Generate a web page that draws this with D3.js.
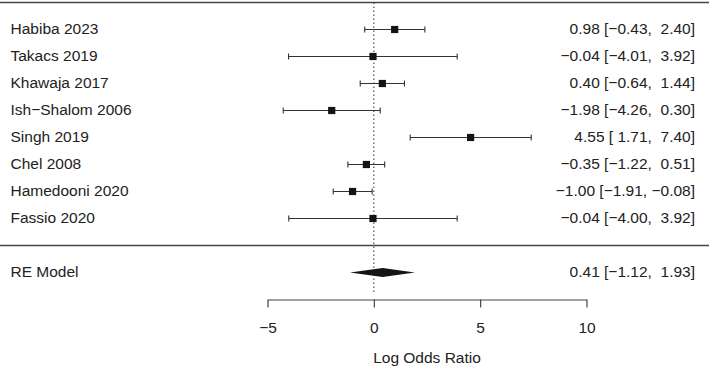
<!DOCTYPE html>
<html lang="en">
<head>
  <meta charset="UTF-8">
  <title>Forest plot</title>
  <script src="https://d3js.org/d3.v7.min.js"></script>
  <style>
    body { margin: 0; background: #fff; }
    svg { font-family: "Liberation Sans", Arial, sans-serif; }
    .lab { font-size: 15.5px; fill: #222; white-space: pre; }
  </style>
</head>
<body>
  <svg></svg>
  <script>
    const studies = ['Habiba 2023', 'Takacs 2019', 'Khawaja 2017', 'Ish\u2212Shalom 2006',
                     'Singh 2019', 'Chel 2008', 'Hamedooni 2020', 'Fassio 2020'];
    const estimates = [0.98, -0.04, 0.40, -1.98, 4.55, -0.35, -1.00, -0.04];
    const lower = [-0.43, -4.01, -0.64, -4.26, 1.71, -1.22, -1.91, -4.00];
    const upper = [2.40, 3.92, 1.44, 0.30, 7.40, 0.51, -0.08, 3.92];
    const model = { label: 'RE Model', est: 0.41, lo: -1.12, hi: 1.93 };
    const xTicks = [-5, 0, 5, 10];
    const xTitle = 'Log Odds Ratio';

    const W = 709, H = 366;
    const svg = d3.select('svg').attr('width', W).attr('height', H);

    const x = d3.scaleLinear().domain([-5, 10]).range([267.5, 586.5]);
    // rows: studies 8..1, separator 0, model -1, axis -2
    const y = d3.scaleLinear().domain([-2, 9]).range([299.5, 2.5]);
    const k = studies.length;
    const data = studies.map((s, i) => ({ s, est: estimates[i], lo: lower[i], hi: upper[i], row: k - i }));

    const fmt = v => (v >= 0 ? ' ' : '') + v.toFixed(2).replace('-', '\u2212');
    const annot = d => d.est.toFixed(2).replace('-', '\u2212') + ' [' + fmt(d.lo) + ', ' + fmt(d.hi) + ']';

    // horizontal rules
    [9, 0].forEach(r => {
      svg.append('line')
        .attr('x1', 0).attr('x2', W)
        .attr('y1', y(r)).attr('y2', y(r))
        .attr('stroke', '#444').attr('stroke-width', 1.3);
    });

    // reference line at 0
    svg.append('line')
      .attr('x1', x(0)).attr('x2', x(0))
      .attr('y1', y(9)).attr('y2', y(-1.8))
      .attr('stroke', '#555').attr('stroke-width', 1.2)
      .attr('stroke-dasharray', '1.5,2.5');

    const g = svg.append('g');
    const row = g.selectAll('g.row').data(data).enter().append('g')
      .attr('class', 'row');

    row.append('line')
      .attr('x1', d => x(d.lo)).attr('x2', d => x(d.hi))
      .attr('y1', d => y(d.row)).attr('y2', d => y(d.row))
      .attr('stroke', '#333').attr('stroke-width', 1.1);
    ['lo', 'hi'].forEach(key => {
      row.append('line')
        .attr('x1', d => x(d[key])).attr('x2', d => x(d[key]))
        .attr('y1', d => y(d.row) - 3).attr('y2', d => y(d.row) + 3)
        .attr('stroke', '#333').attr('stroke-width', 1.1);
    });
    row.append('rect')
      .attr('x', d => x(d.est) - 3.6).attr('y', d => y(d.row) - 3.6)
      .attr('width', 7.2).attr('height', 7.2)
      .attr('fill', '#141414');

    row.append('text').attr('class', 'lab')
      .attr('x', 10.5).attr('y', d => y(d.row))
      .attr('dy', '0.3em')
      .text(d => d.s);
    row.append('text').attr('class', 'lab')
      .attr('x', 695).attr('y', d => y(d.row))
      .attr('dy', '0.3em').attr('text-anchor', 'end')
      .text(d => annot(d));

    // summary diamond
    const my = y(-1);
    svg.append('path')
      .attr('d', `M${x(model.lo)},${my}L${x(model.est)},${my - 4.5}L${x(model.hi)},${my}L${x(model.est)},${my + 4.5}Z`)
      .attr('fill', '#141414');
    svg.append('text').attr('class', 'lab')
      .attr('x', 10.5).attr('y', my).attr('dy', '0.3em')
      .text(model.label);
    svg.append('text').attr('class', 'lab')
      .attr('x', 695).attr('y', my).attr('dy', '0.3em').attr('text-anchor', 'end')
      .text(annot(model));

    // x axis
    const ax = svg.append('g')
      .attr('transform', `translate(0,${y(-2)})`)
      .call(d3.axisBottom(x).tickValues(xTicks).tickSize(8).tickSizeOuter(0).tickPadding(14));
    ax.select('.domain').attr('stroke', '#444').attr('stroke-width', 1.2);
    ax.selectAll('.tick line').attr('stroke', '#444').attr('stroke-width', 1.2);
    ax.selectAll('.tick text').attr('class', 'lab').attr('font-size', null)
      .attr('font-family', null).attr('fill', '#222');

    svg.append('text').attr('class', 'lab')
      .attr('x', x(2.5)).attr('y', 358).attr('dy', '0.35em')
      .attr('text-anchor', 'middle')
      .text(xTitle);
  </script>
</body>
</html>
